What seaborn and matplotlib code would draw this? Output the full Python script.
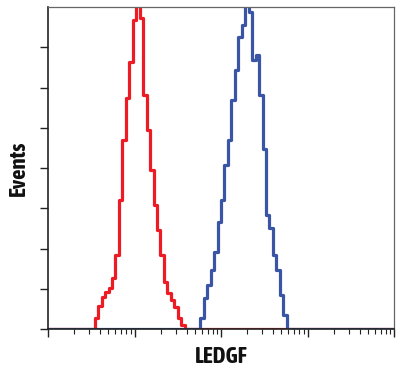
import numpy as np
import pandas as pd
import matplotlib
matplotlib.use("Agg")
import matplotlib.pyplot as plt
from matplotlib import font_manager
import seaborn as sns
from matplotlib.ticker import LogLocator, NullFormatter

# histogram data, x in decades (log10), bin width 0.04 decades
bin_width = 0.04
red_start = 0.54
red_counts = [0.27, 0.57, 0.80, 0.93, 1.02, 1.27, 1.84, 3.20, 4.70, 5.74,
              6.63, 7.67, 8.05, 7.73, 5.81, 4.94, 3.95, 3.08, 2.46, 1.84,
              1.17, 0.89, 0.72, 0.55, 0.27, 0.10]
blue_start = 1.76
blue_counts = [0.27, 0.77, 1.09, 1.47, 1.91, 2.66, 3.20, 4.07, 4.70, 5.69,
               6.43, 7.26, 7.55, 8.05, 7.88, 6.68, 6.81, 5.81, 4.47, 2.83,
               2.51, 1.84, 1.47, 0.84, 0.35]
x_decades = (0, 4)
y_max = 8
x_label = "LEDGF"
y_label = "Events"


def step_frame(start, counts):
    edges = start + bin_width * np.arange(len(counts) + 1)
    x = np.concatenate([[x_decades[0]], edges, [x_decades[1]]])
    y = np.concatenate([[0], counts, [0, 0]])
    return pd.DataFrame({"x": 10.0 ** x, "y": y})


red_df = step_frame(red_start, red_counts)
blue_df = step_frame(blue_start, blue_counts)

# look for a condensed bold face, like the original label font
narrow = None
for f in font_manager.fontManager.ttflist:
    name = f.name.lower()
    if ("narrow" in name or "condensed" in name) and f.weight in ("bold", 700):
        narrow = f
        break
if narrow is None:
    for f in font_manager.fontManager.ttflist:
        if f.stretch in ("condensed", "semi-condensed", 400, 300) and f.weight in ("bold", 700):
            narrow = f
            break

sns.set_style("white")
fig = plt.figure(figsize=(4.01, 3.70), dpi=100)
ax = fig.add_axes([48 / 401, 41 / 370, 346 / 401, 322 / 370])
ax.set_xscale("log")

sns.lineplot(data=red_df, x="x", y="y", ax=ax, color="#ED1C24", lw=2.3,
             drawstyle="steps-post", estimator=None, sort=False)
sns.lineplot(data=blue_df, x="x", y="y", ax=ax, color="#3A55A6", lw=2.3,
             drawstyle="steps-post", estimator=None, sort=False)

ax.set_xlim(10 ** x_decades[0], 10 ** x_decades[1])
ax.set_ylim(0, y_max)

ax.xaxis.set_major_locator(LogLocator(base=10, numticks=10))
ax.xaxis.set_minor_locator(LogLocator(base=10, subs=np.arange(2, 10), numticks=50))
ax.xaxis.set_major_formatter(NullFormatter())
ax.xaxis.set_minor_formatter(NullFormatter())
ax.set_yticks(range(0, y_max))
ax.set_yticklabels([])

ax.tick_params(axis="both", which="major", direction="out", length=6, width=1,
               color="#222222", bottom=True, left=True)
ax.tick_params(axis="x", which="minor", direction="out", length=3.5, width=0.8,
               color="#222222", bottom=True)

for side in ["left", "bottom"]:
    ax.spines[side].set_color("#222222")
    ax.spines[side].set_linewidth(1.2)
for side in ["top", "right"]:
    ax.spines[side].set_color("#666666")
    ax.spines[side].set_linewidth(0.9)

if narrow is not None:
    font = dict(fontproperties=font_manager.FontProperties(fname=narrow.fname, size=16.5),
                color="#111111")
else:
    font = dict(family=["Liberation Sans", "DejaVu Sans"], weight="bold",
                size=12.5, color="#111111")
ax.set_xlabel(x_label, **font)
ax.set_ylabel(y_label, **font)
ax.xaxis.set_label_coords(0.5, -0.052)
ax.yaxis.set_label_coords(-0.052, 0.5)

fig.savefig("out.png", dpi=100)
